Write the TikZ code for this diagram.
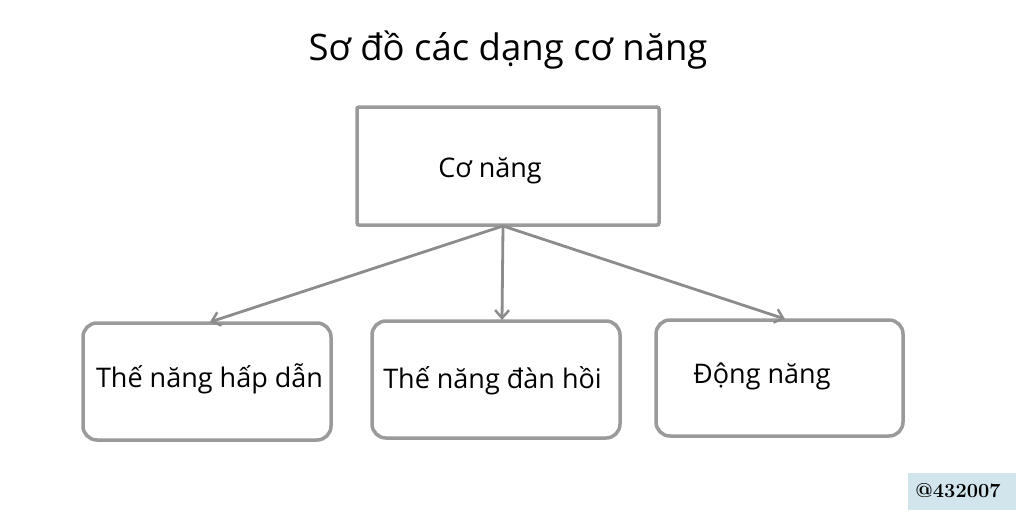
\documentclass[tikz,border=0pt]{standalone}
\usepackage{fontspec}
\setmainfont{Open Sans}
\newfontfamily\wmfont{Latin Modern Roman}
\usetikzlibrary{arrows.meta}
\definecolor{boxgray}{HTML}{9A9A9A}
\definecolor{arrgray}{HTML}{8C8C8C}
\definecolor{wmblue}{HTML}{D3E5EC}
\tikzset{
  topbox/.style={draw=boxgray, line width=3.5pt, rounded corners=2pt},
  leafbox/.style={draw=boxgray, line width=3.5pt, rounded corners=14pt},
  lbl/.style={font=\fontsize{27}{32}\selectfont, text=black, inner sep=0pt, anchor=base},
  conn/.style={draw=arrgray, line width=2.8pt, -{Straight Barb[length=8pt,width=14pt,line width=2.5pt]}},
}
\begin{document}
\begin{tikzpicture}[x=1pt,y=-1pt]
\useasboundingbox (0,0) rectangle (1024,519);
\fill[white] (0,0) rectangle (1024,519);
\node[font=\fontsize{36.5}{44}\selectfont, inner sep=0pt, anchor=base] (title) at (508,60) {Sơ đồ các dạng cơ năng};
\draw[topbox] (357,107) rectangle (659,225);
\coordinate (top) at (503,226);
\node[lbl] (co) at (490,177) {Cơ năng};
\draw[leafbox] (83,323) rectangle (331,440);
\draw[leafbox] (372,321) rectangle (620,438);
\draw[leafbox] (656,320) rectangle (903,436);
\coordinate (a1) at (210,322);
\coordinate (a2) at (502,320);
\coordinate (a3) at (785,319);
\node[lbl] (l1) at (209.5,387) {Thế năng hấp dẫn};
\node[lbl] (l2) at (492.5,388) {Thế năng đàn hồi};
\node[lbl] (l3) at (762,383) {Động năng};
\draw[conn] (top) -- (a1);
\draw[conn] (top) -- (a2);
\draw[conn] (top) -- (a3);
\fill[wmblue] (908,473) rectangle (1016,510);
\node[font=\wmfont\bfseries\fontsize{20}{24}\selectfont, inner sep=0pt] (wm) at (958,491) {@432007};
\end{tikzpicture}
\end{document}
